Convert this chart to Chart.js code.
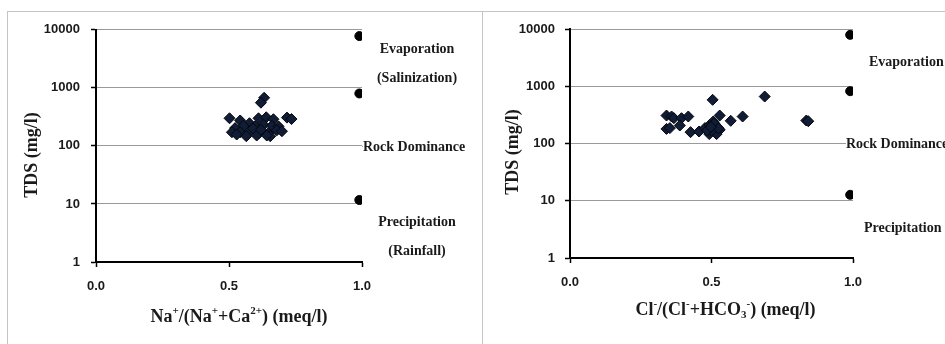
<!DOCTYPE html>
<html>
<head>
<meta charset="utf-8">
<script src="https://cdn.jsdelivr.net/npm/chart.js@4.4.1/dist/chart.umd.min.js"></script>
<style>
  html, body { margin: 0; padding: 0; background: #fff; width: 945px; height: 344px; overflow: hidden; }
  .frame { position: absolute; top: 11px; height: 340px; border-top: 1px solid #c4c4c4; border-left: 1px solid #c4c4c4; }
  #f1 { left: 7px; width: 474px; }
  #f2 { left: 482px; width: 470px; }
  canvas { position: absolute; }
  #naChart { left: 7px; top: 11px; }
  #clChart { left: 482px; top: 11px; }
</style>
</head>
<body>
<div class="frame" id="f1"></div>
<div class="frame" id="f2"></div>
<canvas id="naChart" width="465" height="333"></canvas>
<canvas id="clChart" width="463" height="333"></canvas>
<script>
// Gibbs diagram data
const naRatio = [0.632, 0.620, 0.502, 0.718, 0.735, 0.542, 0.577, 0.611, 0.640, 0.667,
                 0.523, 0.554, 0.598, 0.630, 0.661, 0.686, 0.511, 0.542, 0.577, 0.611,
                 0.648, 0.680, 0.529, 0.604, 0.655, 0.699, 0.565, 0.642, 0.590, 0.620];
const naTds   = [674, 555, 299, 307, 290, 274, 246, 299, 311, 288,
                 203, 222, 217, 231, 222, 217, 172, 172, 179, 163,
                 167, 186, 157, 151, 147, 179, 147, 151, 200, 190];

const clRatio = [0.341, 0.359, 0.367, 0.394, 0.418, 0.388, 0.341, 0.353, 0.426, 0.456,
                 0.477, 0.494, 0.506, 0.518, 0.529, 0.492, 0.518, 0.500, 0.485, 0.510,
                 0.504, 0.529, 0.568, 0.610, 0.688, 0.835, 0.842, 0.525, 0.498];
const clTds   = [308, 296, 277, 277, 296, 206, 180, 186, 158, 162,
                 186, 212, 242, 198, 173, 146, 146, 167, 170, 225,
                 579, 308, 249, 296, 661, 252, 245, 185, 195];

// reference points at ratio 1.0 (evaporation / rock / precipitation)
const refRatio    = [0.99, 0.99, 0.99];
const refTdsNa    = [7800, 800, 11.7];
const refTdsCl    = [7900, 820, 12.7];

const yTicks = [1, 10, 100, 1000, 10000];
const xTicks = [0, 0.5, 1];

const serif = '"Liberation Serif", "Times New Roman", serif';
const sans = '"Liberation Sans", Arial, sans-serif';

// text with sup/sub parts: [text, 0 normal | 1 sup | -1 sub]
function drawRich(ctx, parts, x, y, size, angle) {
    ctx.save();
    ctx.translate(x, y);
    ctx.rotate(angle || 0);
    const small = Math.round(size * 0.6);
    let w = 0;
    parts.forEach(p => {
        ctx.font = 'bold ' + (p[1] ? small : size) + 'px ' + serif;
        w += ctx.measureText(p[0]).width;
    });
    let cx = -w / 2;
    ctx.textBaseline = 'middle';
    ctx.textAlign = 'left';
    ctx.fillStyle = '#1a1a1a';
    parts.forEach(p => {
        ctx.font = 'bold ' + (p[1] ? small : size) + 'px ' + serif;
        const dy = p[1] === 1 ? -size * 0.3 : (p[1] === -1 ? size * 0.28 : 0);
        ctx.fillText(p[0], cx, dy);
        cx += ctx.measureText(p[0]).width;
    });
    ctx.restore();
}

const gibbsText = {
    id: 'gibbsText',
    afterDraw(chart, args, opts) {
        const ctx = chart.ctx;
        const area = chart.chartArea;
        const y = chart.scales.y;

        // region labels on the right
        opts.labels.forEach(l => {
            const py = y.getPixelForValue(l.value);
            ctx.save();
            ctx.font = 'bold 14px ' + serif;
            ctx.textBaseline = 'middle';
            ctx.textAlign = l.align;
            const tx = area.right + l.dx;
            if (l.line) {
                const w = ctx.measureText(l.text).width;
                ctx.strokeStyle = '#9a9a9a';
                ctx.lineWidth = 1;
                ctx.beginPath();
                ctx.moveTo(area.right, Math.round(py) + 0.5);
                ctx.lineTo(tx, Math.round(py) + 0.5);
                ctx.stroke();
                ctx.fillStyle = '#fff';
                ctx.fillRect(tx, py - 8, w + 2, 16);
            }
            ctx.fillStyle = '#1a1a1a';
            ctx.fillText(l.text, tx, py + 1);
            ctx.restore();
        });

        // axis titles
        const midX = (area.left + area.right) / 2;
        drawRich(ctx, opts.xTitle, midX + opts.xTitleDx, opts.xTitleY, 18, 0);
        drawRich(ctx, [['TDS (mg/l)', 0]], opts.yTitleX, opts.yTitleY, 18, -Math.PI / 2);
    }
};

function makeChart(canvasId, ratio, tds, refTds, cfg) {
    const ctx = document.getElementById(canvasId);
    const samples = ratio.map((r, i) => ({ x: r, y: tds[i] }));
    const refs = refRatio.map((r, i) => ({ x: r, y: refTds[i] }));

    return new Chart(ctx, {
        type: 'scatter',
        data: {
            datasets: [
                {
                    data: samples,
                    pointStyle: 'rectRot',
                    pointRadius: 5.5,
                    backgroundColor: '#111d36',
                    borderColor: '#04060b',
                    borderWidth: 1
                },
                {
                    data: refs,
                    pointStyle: 'circle',
                    pointRadius: 4.5,
                    backgroundColor: '#000',
                    borderColor: '#000',
                    borderWidth: 1
                }
            ]
        },
        options: {
            responsive: false,
            animation: false,
            layout: { padding: { top: cfg.padTop, right: cfg.padRight, left: 0, bottom: 0 } },
            plugins: {
                legend: { display: false },
                tooltip: { enabled: false },
                gibbsText: cfg.text
            },
            scales: {
                x: {
                    type: 'linear',
                    min: 0,
                    max: 1,
                    afterBuildTicks: s => { s.ticks = xTicks.map(v => ({ value: v })); },
                    afterFit: s => { s.height = cfg.xHeight; },
                    ticks: {
                        callback: v => v.toFixed(1),
                        color: '#1a1a1a',
                        font: { family: sans, size: 13, weight: 'bold' },
                        padding: 12,
                        maxRotation: 0
                    },
                    grid: { display: true, drawOnChartArea: false, tickLength: 5, tickColor: '#000', tickWidth: 1.5 },
                    border: { display: true, color: '#000', width: 2 }
                },
                y: {
                    type: 'logarithmic',
                    min: 1,
                    max: 10000,
                    afterBuildTicks: s => { s.ticks = yTicks.map(v => ({ value: v })); },
                    afterFit: s => { s.width = cfg.yWidth; },
                    ticks: {
                        callback: v => String(v),
                        color: '#1a1a1a',
                        font: { family: sans, size: 13, weight: 'bold' },
                        padding: cfg.yPad
                    },
                    grid: { color: '#9a9a9a', lineWidth: 1, tickLength: 5, tickColor: '#000', tickWidth: 1.5 },
                    border: { display: true, color: '#000', width: 2 }
                }
            }
        },
        plugins: [gibbsText]
    });
}

makeChart('naChart', naRatio, naTds, refTdsNa, {
    padTop: 13, padRight: 110, yWidth: 89, xHeight: 82, yPad: 11,
    text: {
        labels: [
            { text: 'Evaporation', value: 4850, dx: 55, align: 'center' },
            { text: '(Salinization)', value: 1518, dx: 55, align: 'center' },
            { text: 'Rock Dominance', value: 100, dx: 1, align: 'left', line: true },
            { text: 'Precipitation', value: 5.1, dx: 55, align: 'center' },
            { text: '(Rainfall)', value: 1.6, dx: 55, align: 'center' }
        ],
        xTitle: [['Na', 0], ['+', 1], ['/(Na', 0], ['+', 1], ['+Ca', 0], ['2+', 1], [') (meq/l)', 0]],
        xTitleDx: 10, xTitleY: 306,
        yTitleX: 25, yTitleY: 144
    }
});

makeChart('clChart', clRatio, clTds, refTdsCl, {
    padTop: 18, padRight: 92, yWidth: 88, xHeight: 86, yPad: 10,
    text: {
        labels: [
            { text: 'Evaporation', value: 2666, dx: 16, align: 'left' },
            { text: 'Rock Dominance', value: 100, dx: -7, align: 'left', line: true },
            { text: 'Precipitation', value: 3.4, dx: 11, align: 'left' }
        ],
        xTitle: [['Cl', 0], ['-', 1], ['/(Cl', 0], ['-', 1], ['+HCO', 0], ['3', -1], ['-', 1], [') (meq/l)', 0]],
        xTitleDx: 14, xTitleY: 299,
        yTitleX: 31, yTitleY: 141
    }
});
</script>
</body>
</html>
